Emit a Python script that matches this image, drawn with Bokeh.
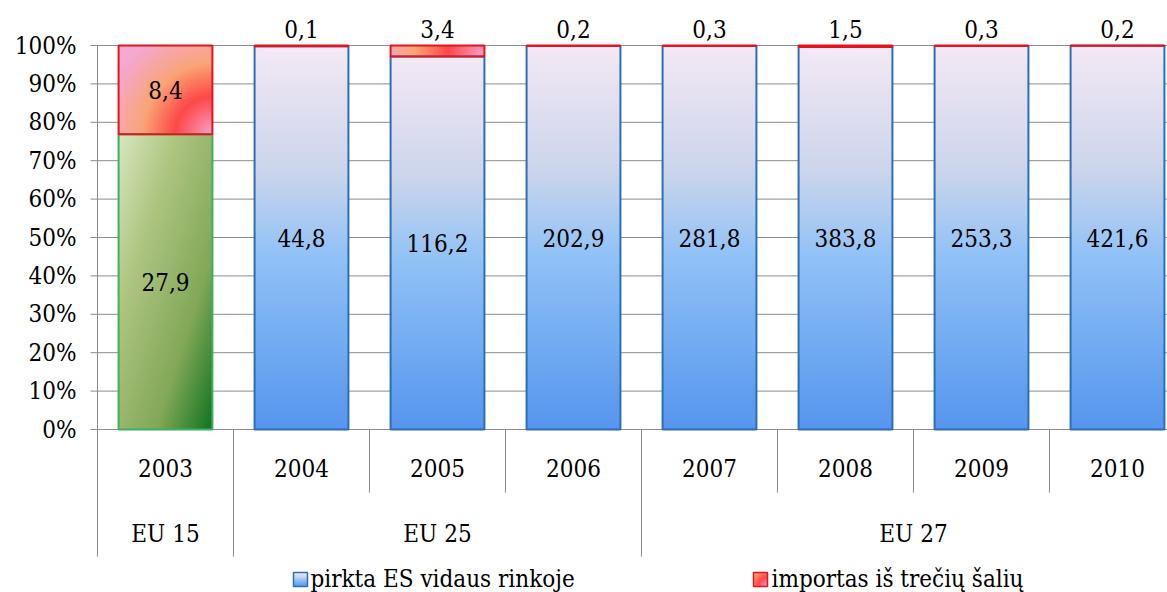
import numpy as np
from bokeh.plotting import figure
from bokeh.models import Range1d, ColumnDataSource
from bokeh.core.properties import value
from bokeh.embed import file_html
from bokeh.resources import INLINE

# ---------------- data ----------------
years = ["2003", "2004", "2005", "2006", "2007", "2008", "2009", "2010"]
groups = ["EU 15", "EU 25", "EU 27"]
group_sizes = [1, 3, 4]
inside_eu = [27.9, 44.8, 116.2, 202.9, 281.8, 383.8, 253.3, 421.6]   # pirkta ES vidaus rinkoje
imports = [8.4, 0.1, 3.4, 0.2, 0.3, 1.5, 0.3, 0.2]                   # importas iš trečių šalių
y_ticks = [0, 10, 20, 30, 40, 50, 60, 70, 80, 90, 100]
y_tick_labels = [f"{t}%" for t in y_ticks]
legend_labels = ["pirkta ES vidaus rinkoje", "importas iš trečių šalių"]

# ---------------- layout helpers (page pixel -> data) ----------------
W, H = 1167, 592
U = 136.0           # pixels per category
AX = 97.0           # page x of the value axis
Y0, Y100 = 429.0, 45.0
SY = Y0 - Y100


def px(page_x):
    return (page_x - AX) / U


def py(page_y):
    return (Y0 - page_y) / SY


FONT = value("DejaVu Serif Condensed")
GRID = "#8C8C8C"
BAR_W = 0.69

p = figure(width=W, height=H, x_range=Range1d(px(0), px(W)),
           y_range=Range1d(py(H), py(0)),
           x_axis_location=None, y_axis_location=None,
           toolbar_location=None, output_backend="svg", min_border=0)
p.outline_line_color = None
p.background_fill_color = "white"
p.border_fill_color = "white"
p.grid.visible = False


def interp(T, stops):
    pos = [s[0] for s in stops]
    out = []
    for c in range(3):
        out.append(np.interp(T, pos, [s[1][c] for s in stops]))
    return out


BLUE_STOPS = [(0.0, (245, 233, 245)), (0.33, (203, 213, 236)),
              (0.55, (145, 194, 247)), (1.0, (86, 150, 238))]
GREEN_STOPS = [(0.0, (216, 232, 192)), (0.3, (176, 198, 130)),
               (0.7, (130, 168, 88)), (1.0, (14, 114, 32))]
RED_STOPS = [(0.0, (246, 165, 212)), (18.0, (250, 120, 140)), (38.0, (255, 72, 72)),
             (70.0, (250, 165, 118)), (110.0, (245, 168, 208))]


def grad_image(kind, w_px, h_px):
    nx = max(2, int(round(w_px / 2)))
    ny = max(2, int(round(h_px / 2)))
    xx = (np.arange(nx) + 0.5) / nx
    yy = (np.arange(ny) + 0.5) / ny      # 0 = top
    X, Y = np.meshgrid(xx, yy)
    if kind == "blue":
        r, g, b = interp(Y, BLUE_STOPS)
    elif kind == "green":
        r, g, b = interp(0.5 * X + 0.5 * Y, GREEN_STOPS)
    else:
        D = np.sqrt(((1 - X) * w_px) ** 2 + ((1 - Y) * h_px) ** 2)
        r, g, b = interp(D, RED_STOPS)
    img = np.empty((ny, nx), dtype=np.uint32)
    view = img.view(dtype=np.uint8).reshape((ny, nx, 4))
    view[..., 0] = r.astype(np.uint8)
    view[..., 1] = g.astype(np.uint8)
    view[..., 2] = b.astype(np.uint8)
    view[..., 3] = 255
    return np.ascontiguousarray(img[::-1])


# ---------------- gridlines & axis line ----------------
p.segment(x0=[px(90)] * len(y_ticks), x1=[px(1300)] * len(y_ticks),
          y0=[t / 100 for t in y_ticks], y1=[t / 100 for t in y_ticks],
          line_color=GRID, line_width=1)
p.segment(x0=[0], x1=[0], y0=[py(556)], y1=[1.0], line_color=GRID, line_width=1)

# category separators
bounds = np.cumsum(group_sizes)
sx, sy0, sy1 = [], [], []
for k in range(1, len(years) + 1):
    sx.append(k)
    sy0.append(0)
    sy1.append(py(556) if k in bounds else py(492))
p.segment(x0=sx, x1=sx, y0=sy0, y1=sy1, line_color=GRID, line_width=1)

# ---------------- bars ----------------
totals = [a + b for a, b in zip(inside_eu, imports)]
share_in = [a / t for a, t in zip(inside_eu, totals)]
share_im = [b / t for b, t in zip(imports, totals)]
centers = [i + 0.5 for i in range(len(years))]
bar_px = BAR_W * U

for i, c in enumerate(centers):
    kind = "green" if i < group_sizes[0] else "blue"
    h_px = share_in[i] * SY
    p.image_rgba(image=[grad_image(kind, bar_px, h_px)], x=c - BAR_W / 2, y=0,
                 dw=BAR_W, dh=share_in[i])
    h2 = share_im[i] * SY
    if h2 >= 2:
        p.image_rgba(image=[grad_image("red", bar_px, h2)], x=c - BAR_W / 2,
                     y=share_in[i], dw=BAR_W, dh=share_im[i])

blue_src = ColumnDataSource(dict(
    left=[c - BAR_W / 2 for c in centers[group_sizes[0]:]],
    right=[c + BAR_W / 2 for c in centers[group_sizes[0]:]],
    bottom=[0] * (len(years) - group_sizes[0]),
    top=share_in[group_sizes[0]:]))
p.quad(left="left", right="right", bottom="bottom", top="top", source=blue_src,
       fill_color=None, line_color="#2B6FB2", line_width=2)
green_src = ColumnDataSource(dict(
    left=[c - BAR_W / 2 for c in centers[:group_sizes[0]]],
    right=[c + BAR_W / 2 for c in centers[:group_sizes[0]]],
    bottom=[0] * group_sizes[0], top=share_in[:group_sizes[0]]))
p.quad(left="left", right="right", bottom="bottom", top="top", source=green_src,
       fill_color=None, line_color="#3DB060", line_width=2)
red_src = ColumnDataSource(dict(
    left=[c - BAR_W / 2 for c in centers], right=[c + BAR_W / 2 for c in centers],
    bottom=share_in, top=[a + b for a, b in zip(share_in, share_im)]))
p.quad(left="left", right="right", bottom="bottom", top="top", source=red_src,
       fill_color=None, line_color="#E0161E", line_width=2)


def fmt(v):
    return f"{v:.1f}".replace(".", ",")


# value labels
lab_x, lab_y, lab_t = [], [], []
for i, c in enumerate(centers):
    lab_x.append(c)
    lab_y.append(share_in[i] / 2)
    lab_t.append(fmt(inside_eu[i]))
    lab_x.append(c)
    lab_y.append(share_in[i] + share_im[i] / 2 if share_im[i] > 0.05 else py(28.5))
    lab_t.append(fmt(imports[i]))
p.text(x=lab_x, y=lab_y, text=lab_t, text_font=FONT, text_font_size="24px",
       text_align="center", text_baseline="middle", text_color="black")

# y tick labels
p.text(x=[px(76)] * len(y_ticks), y=[t / 100 for t in y_ticks], text=y_tick_labels,
       text_font=FONT, text_font_size="24px", text_align="right",
       text_baseline="middle", text_color="black")

# year labels
p.text(x=centers, y=[py(467)] * len(years), text=years, text_font=FONT,
       text_font_size="24px", text_align="center", text_baseline="middle",
       text_color="black")

# group labels
starts = np.concatenate([[0], bounds[:-1]])
p.text(x=[s + n / 2 for s, n in zip(starts, group_sizes)], y=[py(533)] * len(groups),
       text=groups, text_font=FONT, text_font_size="24px", text_align="center",
       text_baseline="middle", text_color="black")

# ---------------- legend ----------------
LEG_TOP, LEG_BOT = 572, 586
leg_marks = [(293, "blue", "#2B6FB2"), (753, "red", "#E0161E")]
for (mx, kind, lc) in leg_marks:
    if kind == "blue":
        img = grad_image("blue", 14, 14)
    else:
        img = grad_image("red", 14 * 4, 14 * 4)
    p.image_rgba(image=[img], x=px(mx), y=py(LEG_BOT), dw=px(mx + 14) - px(mx),
                 dh=py(LEG_TOP) - py(LEG_BOT))
    p.quad(left=[px(mx)], right=[px(mx + 14)], bottom=[py(LEG_BOT)], top=[py(LEG_TOP)],
           fill_color=None, line_color=lc, line_width=1.5)
p.text(x=[px(310), px(771)], y=[py(578), py(578)], text=legend_labels, text_font=FONT,
       text_font_size="24px", text_align="left", text_baseline="middle",
       text_color="black")

open("out.html", "w").write(file_html(p, INLINE))
